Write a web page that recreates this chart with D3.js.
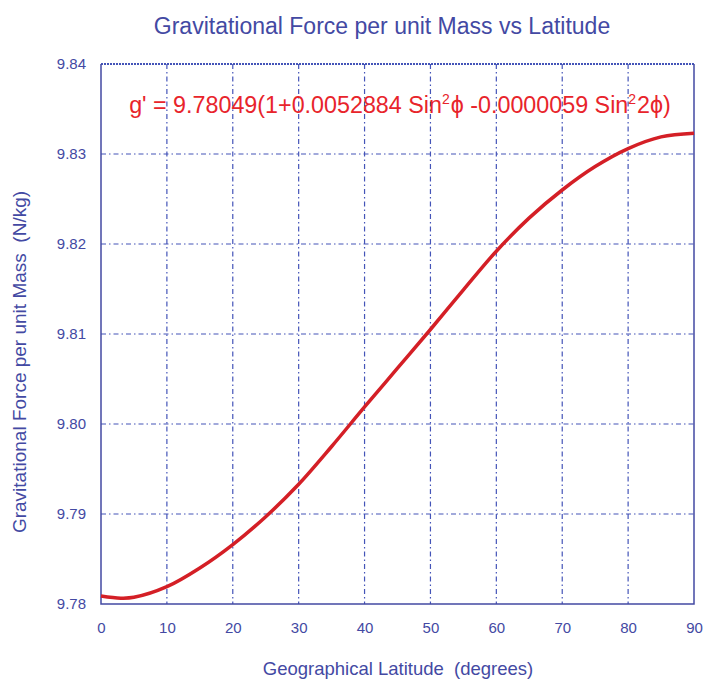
<!DOCTYPE html>
<html>
<head>
<meta charset="utf-8">
<script src="https://cdn.jsdelivr.net/npm/d3@7"></script>
<style>
  body { margin: 0; background: #fff; }
  text { font-family: "Liberation Sans", Arial, sans-serif; }
</style>
</head>
<body>
<div id="chart"></div>
<script>
// latitude (degrees) and g' (N/kg)
const latitude = [0, 3, 5, 10, 15, 20, 25, 30, 35, 40, 45, 50, 55, 60, 65, 70, 75, 80, 85, 90];
const gravity = [9.7809, 9.78065, 9.78074, 9.78192, 9.7840, 9.7866, 9.7897, 9.7933, 9.7975, 9.8019,
                 9.8062, 9.8105, 9.8149, 9.8192, 9.8229, 9.8260, 9.8286, 9.8306, 9.8319, 9.8323];
const xTicks = [0, 10, 20, 30, 40, 50, 60, 70, 80, 90];
const yTicks = [9.78, 9.79, 9.80, 9.81, 9.82, 9.83, 9.84];

const margin = {top: 64, right: 10, bottom: 75, left: 101};
const width = 704 - margin.left - margin.right;
const height = 679 - margin.top - margin.bottom;

const blue = "#4349a3";
const gridBlue = "#4454b8";

let svg = d3.select("#chart")
    .append("svg")
    .attr("width", 704)
    .attr("height", 679)
    .append("g")
    .attr("transform", `translate(${margin.left},${margin.top})`);

const x = d3.scaleLinear().domain([0, 90]).range([0, width]);
const y = d3.scaleLinear().domain([9.78, 9.84]).range([height, 0]);

// grid
svg.selectAll(".vgrid")
    .data(xTicks.slice(1, -1))
    .enter().append("line")
    .attr("x1", d => x(d)).attr("x2", d => x(d))
    .attr("y1", 0).attr("y2", height)
    .attr("stroke", gridBlue)
    .attr("stroke-width", 1.2)
    .attr("stroke-dasharray", "5,3,1.5,3");

svg.selectAll(".hgrid")
    .data(yTicks.slice(1))
    .enter().append("line")
    .attr("x1", 0).attr("x2", width)
    .attr("y1", d => y(d)).attr("y2", d => y(d))
    .attr("stroke", gridBlue)
    .attr("stroke-width", d => d === 9.84 ? 1.8 : 1.2)
    .attr("stroke-dasharray", d => d === 9.84 ? "2,1" : "5,3,1.5,3");

// frame (left, bottom, right)
svg.append("path")
    .attr("d", `M0,0V${height}H${width}V0`)
    .attr("fill", "none")
    .attr("stroke", blue)
    .attr("stroke-width", 1.5);

// axes
const xAxis = svg.append("g")
    .attr("transform", `translate(0,${height})`)
    .call(d3.axisBottom(x).tickValues(xTicks).tickSize(0).tickPadding(18));
xAxis.select(".domain").remove();
xAxis.selectAll("text").attr("fill", blue).style("font-size", "15px");

const yAxis = svg.append("g")
    .call(d3.axisLeft(y).tickValues(yTicks).tickSize(0).tickPadding(15).tickFormat(d3.format(".2f")));
yAxis.select(".domain").remove();
yAxis.selectAll("text").attr("fill", blue).style("font-size", "15px");

// curve
const line = d3.line()
    .x(d => x(d[0]))
    .y(d => y(d[1]))
    .curve(d3.curveCatmullRom);

svg.append("path")
    .datum(d3.zip(latitude, gravity))
    .attr("fill", "none")
    .attr("stroke", "#d41f26")
    .attr("stroke-width", 3.5)
    .attr("d", line);

// title
svg.append("text")
    .attr("x", 382 - margin.left)
    .attr("y", 34 - margin.top)
    .attr("text-anchor", "middle")
    .attr("fill", blue)
    .style("font-size", "23px")
    .text("Gravitational Force per unit Mass vs Latitude");

// formula
const f = svg.append("text")
    .attr("x", 400 - margin.left)
    .attr("y", 113 - margin.top)
    .attr("text-anchor", "middle")
    .attr("fill", "#e8242b")
    .style("font-size", "23.3px");
f.append("tspan").text("g' = 9.78049(1+0.0052884 Sin");
f.append("tspan").attr("dy", -9).style("font-size", "14px").text("2");
f.append("tspan").attr("dy", 9).attr("dx", 1).text("\u03d5 -0.0000059 Sin");
f.append("tspan").attr("dy", -9).style("font-size", "14px").text("2");
f.append("tspan").attr("dy", 9).attr("dx", 1).text("2\u03d5)");

// axis titles
svg.append("text")
    .attr("x", 398 - margin.left)
    .attr("y", 675 - margin.top)
    .attr("text-anchor", "middle")
    .attr("fill", blue)
    .style("font-size", "18.5px")
    .text("Geographical Latitude \u00a0(degrees)");

svg.append("text")
    .attr("transform", "rotate(-90)")
    .attr("x", -(362 - margin.top))
    .attr("y", 26 - margin.left)
    .attr("text-anchor", "middle")
    .attr("fill", blue)
    .style("font-size", "19px")
    .text("Gravitational Force per unit Mass \u00a0(N/kg)");
</script>
</body>
</html>
